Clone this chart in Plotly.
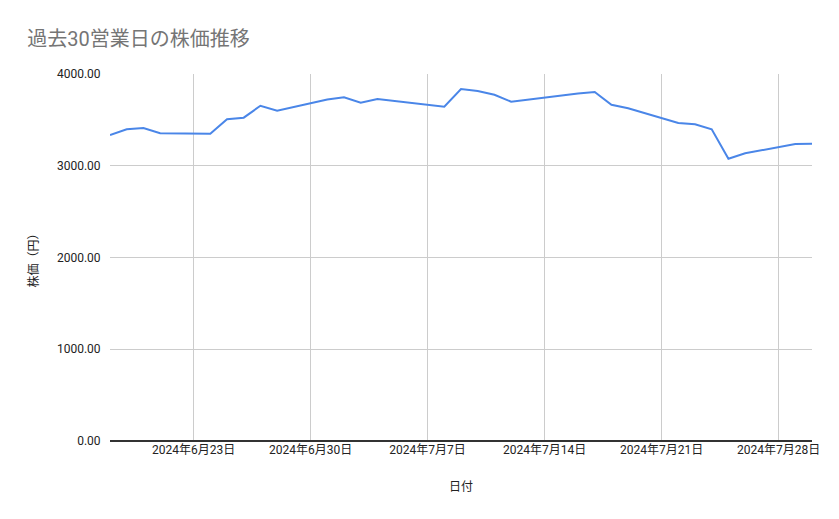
import plotly.graph_objects as go

# 過去30営業日 (7/15 海の日は休場)
dates = [
    "2024-06-18", "2024-06-19", "2024-06-20", "2024-06-21", "2024-06-24",
    "2024-06-25", "2024-06-26", "2024-06-27", "2024-06-28", "2024-07-01",
    "2024-07-02", "2024-07-03", "2024-07-04", "2024-07-05", "2024-07-08",
    "2024-07-09", "2024-07-10", "2024-07-11", "2024-07-12", "2024-07-16",
    "2024-07-17", "2024-07-18", "2024-07-19", "2024-07-22", "2024-07-23",
    "2024-07-24", "2024-07-25", "2024-07-26", "2024-07-29", "2024-07-30",
]
prices = [
    3335, 3397, 3411, 3354, 3349,
    3506, 3524, 3654, 3600, 3722,
    3746, 3687, 3727, 3706, 3644,
    3836, 3815, 3774, 3698, 3787,
    3804, 3665, 3626, 3466, 3452,
    3397, 3077, 3136, 3237, 3240,
]
y_ticks = [0, 1000, 2000, 3000, 4000]

font = "Roboto, 'Noto Sans CJK JP', sans-serif"

fig = go.Figure()
fig.add_trace(go.Scatter(
    x=dates, y=prices, mode="lines",
    line=dict(color="#4a86e8", width=2),
    name="株価",
))

# the page adds 8px body margin, so the margins are shifted by that
fig.update_layout(
    width=839, height=519,
    paper_bgcolor="white", plot_bgcolor="white",
    font=dict(family=font, size=12, color="#222222"),
    title=dict(text="過去30営業日の株価推移", x=0.023, xanchor="left",
               y=0.94, yanchor="middle",
               font=dict(family=font, size=20, color="#757575")),
    showlegend=False,
    margin=dict(l=102, r=35, t=66, b=86),
)
fig.update_xaxes(
    range=["2024-06-18", "2024-07-30"],
    tick0="2024-06-23", dtick=7 * 24 * 3600 * 1000,
    tickformat="%Y年%-m月%-d日",
    showgrid=True, gridcolor="#cccccc", gridwidth=1,
    showline=False, zeroline=False, ticks="",
    title=dict(text="日付", standoff=26, font=dict(size=12, color="#222222")),
)
fig.update_yaxes(
    range=[0, 4000], tickvals=y_ticks, tickformat=".2f",
    showgrid=True, gridcolor="#cccccc", gridwidth=1,
    zeroline=True, zerolinecolor="#333333", zerolinewidth=1.5,
    ticks="outside", ticklen=6, tickcolor="rgba(0,0,0,0)",
    title=dict(text="株価（円）", standoff=15, font=dict(size=12, color="#222222")),
)

fig.write_html("out.html")
